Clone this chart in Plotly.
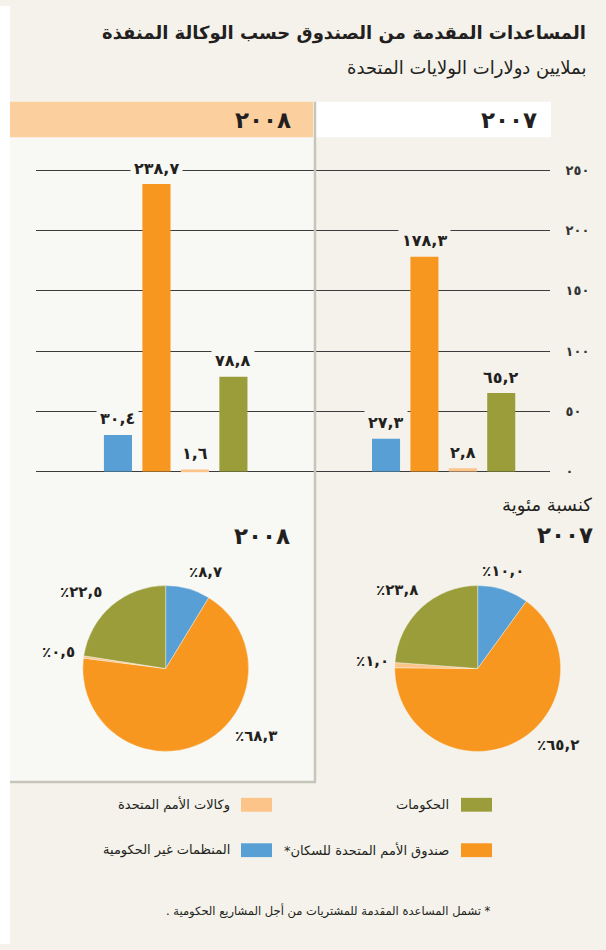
import plotly.graph_objects as go

# ---------------- data ----------------
categories = ["المنظمات غير الحكومية", "صندوق الأمم المتحدة للسكان*", "وكالات الأمم المتحدة", "الحكومات"]
values_2007 = [27.3, 178.3, 2.8, 65.2]
values_2008 = [30.4, 238.7, 1.6, 78.8]
colors = ["#579fd4", "#f7971f", "#fdc48a", "#9a9d39"]
y_ticks = [0, 50, 100, 150, 200, 250]
year_2007 = "٢٠٠٧"
year_2008 = "٢٠٠٨"
title = "المساعدات المقدمة من الصندوق حسب الوكالة المنفذة"
subtitle = "بملايين دولارات الولايات المتحدة"
pie_caption = "كنسبة مئوية"
footnote = "* تشمل المساعدة المقدمة للمشتريات من أجل المشاريع الحكومية ."

RLM = "\u200f"
AR = str.maketrans("0123456789", "٠١٢٣٤٥٦٧٨٩")


def ar(v, dec=1):
    s = f"{v:.{dec}f}".replace(".", ",") if dec else f"{int(v)}"
    return s.translate(AR)


W, H = 606, 950
FONT = "DejaVu Sans"
INK = "#231f20"
BG = "#f4f2eb"
PANEL = "#f8f8f4"


def px(x):
    return x / W


def py(y):
    return 1 - y / H


fig = go.Figure()

# ---------------- bars ----------------
for vals, xa in ((values_2008, "x"), (values_2007, "x2")):
    fig.add_trace(go.Bar(
        x=categories, y=vals, xaxis=xa, yaxis="y",
        marker=dict(color=colors, line=dict(width=0)),
        width=0.73, showlegend=False, hoverinfo="skip",
    ))

# ---------------- pies ----------------
pie_specs = [
    (values_2007, [px(477.7 - 84), px(477.7 + 84)]),
    (values_2008, [px(165.7 - 84), px(165.7 + 84)]),
]
for vals, dx in pie_specs:
    fig.add_trace(go.Pie(
        labels=categories, values=vals, sort=False, direction="clockwise",
        rotation=0, textinfo="none", hoverinfo="skip", showlegend=False,
        marker=dict(colors=colors, line=dict(width=0.6, color="rgba(255,255,255,0.6)")),
        domain=dict(x=dx, y=[py(671 + 84), py(671 - 84)]),
    ))

annotations = []
shapes = []

# bar value labels
for vals, xa, bg in ((values_2008, "x", PANEL), (values_2007, "x2", BG)):
    for c, v in zip(categories, vals):
        annotations.append(dict(
            x=c, y=v, xref=xa, yref="y", text="<b>" + ar(v) + "</b>",
            showarrow=False, yanchor="middle", yshift=16,
            font=dict(family=FONT, size=16, color=INK),
            bgcolor=bg, borderpad=3,
        ))

# pie percentage labels
pie_label_pos = {
    "2007": [(503, 572), (558, 748), (372, 663), (397, 591)],
    "2008": [(205, 573), (256, 739), (58, 654), (81, 593)],
}
for key, vals in (("2007", values_2007), ("2008", values_2008)):
    tot = sum(vals)
    for (lx, ly), v in zip(pie_label_pos[key], vals):
        annotations.append(dict(
            x=px(lx), y=py(ly), xref="paper", yref="paper",
            text="<b>٪" + ar(v / tot * 100) + "</b>", showarrow=False,
            xanchor="center", yanchor="middle",
            font=dict(family=FONT, size=15, color=INK),
        ))

# titles
annotations += [
    dict(x=px(588), y=py(27), text="<b>" + title + "</b>", xanchor="right", yanchor="middle",
         font=dict(family=FONT, size=18, color=INK)),
    dict(x=px(588), y=py(63), text=subtitle, xanchor="right", yanchor="middle",
         font=dict(family=FONT, size=18, color=INK)),
    dict(x=px(293), y=py(115), text="<b>" + year_2008 + "</b>", xanchor="right", yanchor="middle",
         font=dict(family=FONT, size=23, color=INK)),
    dict(x=px(539), y=py(115), text="<b>" + year_2007 + "</b>", xanchor="right", yanchor="middle",
         font=dict(family=FONT, size=23, color=INK)),
    dict(x=px(594), y=py(505), text=pie_caption, xanchor="right", yanchor="middle",
         font=dict(family=FONT, size=18, color=INK)),
    dict(x=px(595), y=py(536), text="<b>" + year_2007 + "</b>", xanchor="right", yanchor="middle",
         font=dict(family=FONT, size=23, color=INK)),
    dict(x=px(292), y=py(537), text="<b>" + year_2008 + "</b>", xanchor="right", yanchor="middle",
         font=dict(family=FONT, size=23, color=INK)),
    dict(x=px(493), y=py(917), text=RLM + footnote + RLM, xanchor="right", yanchor="middle",
         font=dict(family=FONT, size=11.5, color=INK)),
]
for a in annotations:
    a.setdefault("showarrow", False)
    a.setdefault("xref", "paper")
    a.setdefault("yref", "paper")

# legend (swatch + label)
legend_pos = [(272, 232, 855), (492, 451, 855), (272, 232, 809), (492, 451, 809)]
for (sx, tx, ly), name, col in zip(legend_pos, categories, colors):
    shapes.append(dict(type="rect", xref="paper", yref="paper",
                       x0=px(sx - 31), x1=px(sx), y0=py(ly - 7), y1=py(ly + 7),
                       fillcolor=col, line=dict(width=0), layer="above"))
    annotations.append(dict(x=px(tx), y=py(ly), xref="paper", yref="paper", showarrow=False,
                            text=name + RLM, xanchor="right", yanchor="middle",
                            font=dict(family=FONT, size=13, color=INK)))

# background panels
shapes += [
    dict(type="rect", xref="paper", yref="paper", x0=0, x1=px(10), y0=0, y1=1,
         fillcolor="#ffffff", line=dict(width=0), layer="below"),
    dict(type="rect", xref="paper", yref="paper", x0=px(10), x1=px(314), y0=py(786), y1=py(97),
         fillcolor=PANEL, line=dict(width=0), layer="below"),
    dict(type="rect", xref="paper", yref="paper", x0=px(10), x1=px(313), y0=py(133), y1=py(97),
         fillcolor="#fcd09e", line=dict(width=0), layer="below"),
    dict(type="rect", xref="paper", yref="paper", x0=px(316), x1=px(551), y0=py(133), y1=py(97),
         fillcolor="#ffffff", line=dict(width=0), layer="below"),
    dict(type="line", xref="paper", yref="paper", x0=px(315), x1=px(315), y0=py(787), y1=py(97),
         line=dict(color="#c5c5ba", width=2.5), layer="above"),
    dict(type="line", xref="paper", yref="paper", x0=px(10), x1=px(316), y0=py(786), y1=py(786),
         line=dict(color="#c5c5ba", width=2.5), layer="above"),
]

fig.update_layout(
    width=W, height=H, margin=dict(l=0, r=0, t=0, b=0),
    paper_bgcolor=BG, plot_bgcolor="rgba(0,0,0,0)",
    hovermode=False, showlegend=False,
    annotations=annotations, shapes=shapes,
    xaxis=dict(domain=[px(36), px(315)], range=[-2.13, 5.12], type="category",
               categoryorder="array", categoryarray=categories,
               showticklabels=False, showgrid=False, zeroline=False, showline=False, fixedrange=True),
    xaxis2=dict(domain=[px(315), px(550)], range=[-1.85, 4.27], type="category", anchor="y",
                categoryorder="array", categoryarray=categories,
                showticklabels=False, showgrid=False, zeroline=False, showline=False, fixedrange=True),
    yaxis=dict(domain=[py(472.7), py(165.4)], range=[-1, 251], anchor="x2", side="right",
               tickvals=y_ticks, ticktext=[ar(t, 0) for t in y_ticks],
               ticks="outside", ticklen=12, tickcolor="rgba(0,0,0,0)",
               tickfont=dict(family=FONT, size=13, color="#333333", weight="bold"),
               showgrid=True, gridcolor="#3c3c3c", gridwidth=1.2,
               zeroline=False, showline=False, fixedrange=True),
)

fig.write_html("out.html")
